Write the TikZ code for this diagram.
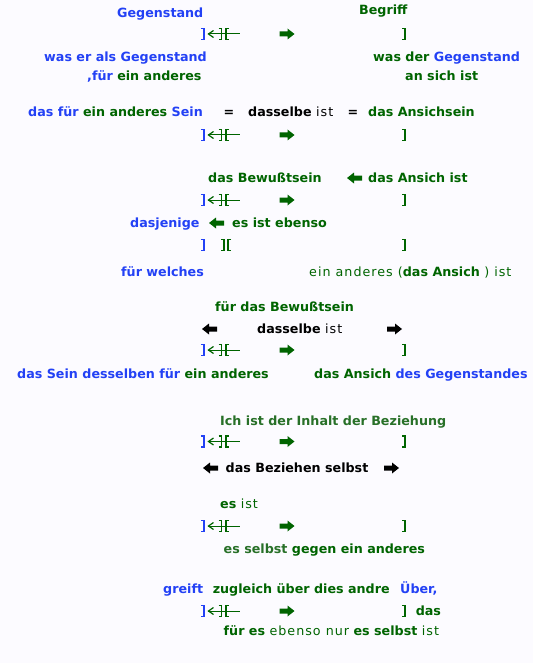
\documentclass[tikz,border=0pt]{standalone}
\usepackage{fontspec}
\setmainfont{DejaVu Sans}
\newfontfamily\regfont[LetterSpace=8]{DejaVu Sans}
\definecolor{bl}{RGB}{35,65,245}
\definecolor{gr}{RGB}{0,100,0}
\definecolor{lg}{RGB}{40,112,40}
\definecolor{bgc}{RGB}{252,251,255}
\newcommand{\rgw}[1]{{\regfont\mdseries #1}}
\tikzset{
  txt/.style={anchor=base west,inner sep=0pt,font=\fontsize{12.7}{14}\selectfont\bfseries},
  brk/.style={line width=1.8pt},
  blockR/.pic={\fill[#1] (0,-2.5) -- (8,-2.5) -- (8,-5.5) -- (15,0) -- (8,5.5) -- (8,2.5) -- (0,2.5) -- cycle;},
  blockL/.pic={\fill[#1] (15,-2.5) -- (7,-2.5) -- (7,-5.5) -- (0,0) -- (7,5.5) -- (7,2.5) -- (15,2.5) -- cycle;},
  rowsym/.pic={
    \draw[bl,brk] (200.8,-5.5) -- (203.8,-5.5) -- (203.8,5.5) -- (200.8,5.5);
    \draw[gr,line width=1pt] (208,0) -- (240,0);
    \draw[gr,line width=1.2pt] (213.5,-3.5) -- (208.5,0) -- (213.5,3.5);
    \draw[gr,brk] (218.5,-5.5) -- (221.5,-5.5) -- (221.5,5.5) -- (218.5,5.5);
    \draw[gr,brk] (229,-5.5) -- (226,-5.5) -- (226,5.5) -- (229,5.5);
    \pic at (279.5,0) {blockR=gr};
    \draw[gr,brk] (402,-5.5) -- (405,-5.5) -- (405,5.5) -- (402,5.5);
  },
  rowpart/.pic={
    \draw[bl,brk] (200.8,-5.5) -- (203.8,-5.5) -- (203.8,5.5) -- (200.8,5.5);
    \draw[gr,brk] (221,-5.5) -- (224,-5.5) -- (224,5.5) -- (221,5.5);
    \draw[gr,brk] (231,-5.5) -- (228,-5.5) -- (228,5.5) -- (231,5.5);
    \draw[gr,brk] (402,-5.5) -- (405,-5.5) -- (405,5.5) -- (402,5.5);
  }
}
\begin{document}
\begin{tikzpicture}[x=1pt,y=-1pt]
\fill[bgc] (0,0) rectangle (533,663);
\useasboundingbox (0,0) rectangle (533,663);
% row symbols
\pic at (0,34) {rowsym};
\pic at (0,135) {rowsym};
\pic at (0,200) {rowsym};
\pic at (0,245) {rowpart};
\pic at (0,350) {rowsym};
\pic at (0,441.5) {rowsym};
\pic at (0,526) {rowsym};
\pic at (0,611) {rowsym};
% block arrows in text
\pic at (347,178) {blockL=gr};
\pic at (209,223) {blockL=gr};
\pic at (202,329) {blockL=black};
\pic at (387,329) {blockR=black};
\pic at (203,468) {blockL=black};
\pic at (384,468) {blockR=black};
% texts
\node[txt,bl] (gegenstand) at (117,17.2) {Gegenstand};
\node[txt,gr] (begriff) at (359,15) {Begriff};
\node[txt,bl] (waser) at (44,61.6) {was er als Gegenstand};
\node[txt] (fuerein) at (87,81) {{\color{bl},für} {\color{gr}ein anderes}};
\node[txt] (wasder) at (373,61.6) {{\color{gr}was der} {\color{bl}Gegenstand}};
\node[txt,gr] (ansich) at (405,81) {an sich ist};
\node[txt] (dasfuer) at (28,116.6) {{\color{bl}das für} {\color{gr}ein anderes} {\color{bl}Sein}};
\node[txt,anchor=base] (eqa) at (229,116.6) {=};
\node[txt] (dasselbea) at (248,116.6) {dasselbe \rgw{ist}};
\node[txt,anchor=base] (eqb) at (353,116.6) {=};
\node[txt,gr] (ansichsein) at (368,116.6) {das Ansichsein};
\node[txt,gr] (bewusst) at (208,182.6) {das Bewußtsein};
\node[txt,gr] (ansichist) at (368,182.6) {das Ansich ist};
\node[txt,bl] (dasjenige) at (130,227.6) {dasjenige};
\node[txt,gr] (esistebenso) at (232,227.6) {es ist ebenso};
\node[txt,bl] (fuerwelches) at (121,276.6) {für welches};
\node[txt,gr] (einanderes) at (309,276.6) {\rgw{ein anderes (}das Ansich \rgw{) ist}};
\node[txt,gr] (fuerdasbew) at (215,311.6) {für das Bewußtsein};
\node[txt] (dasselbeb) at (257,333.6) {dasselbe \rgw{ist}};
\node[txt] (dassein) at (17,378.6) {{\color{bl}das Sein desselben für} {\color{gr}ein anderes}};
\node[txt] (dasansichdes) at (314,378.6) {{\color{gr}das Ansich} {\color{bl}des Gegenstandes}};
\node[txt,lg] (ichist) at (220,425.6) {Ich ist der Inhalt der Beziehung};
\node[txt] (beziehen) at (225.5,472.6) {das Beziehen selbst};
\node[txt,gr] (esist) at (220,508.6) {es \rgw{ist}};
\node[txt] (esselbst) at (223.5,553) {{\color{lg}es selbst} {\color{gr}gegen ein anderes}};
\node[txt,bl] (greift) at (163,593.6) {greift};
\node[txt,gr] (zugleich) at (212.6,593.6) {zugleich über dies andre};
\node[txt,bl] (ueber) at (400,593.6) {Über,};
\node[txt,gr] (das) at (415.6,615.6) {das};
\node[txt,gr] (fueres) at (223.5,635.6) {für es \rgw{ebenso nur} es selbst \rgw{ist}};
\end{tikzpicture}
\end{document}
